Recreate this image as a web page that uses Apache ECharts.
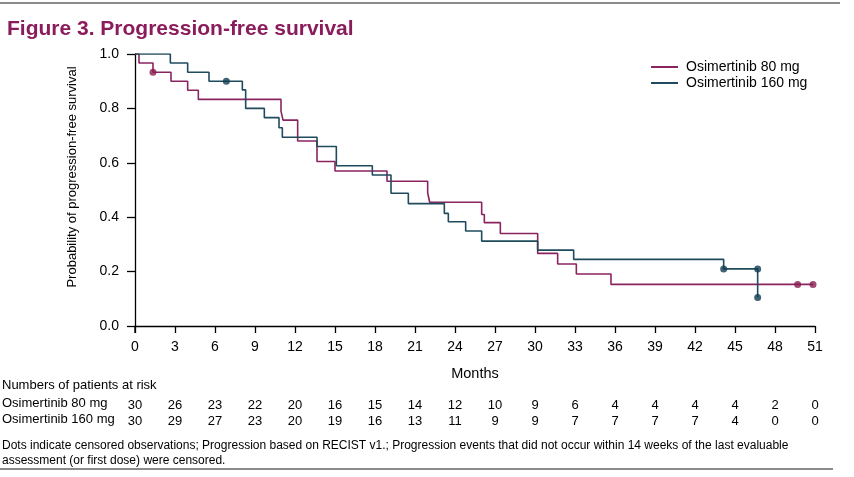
<!DOCTYPE html>
<html>
<head>
<meta charset="utf-8">
<script src="https://cdn.jsdelivr.net/npm/echarts@6/dist/echarts.min.js"></script>
<style>html,body{margin:0;padding:0;background:#fff;}#c{width:854px;height:477px;}</style>
</head>
<body>
<div id="c"></div>
<script>
// ---- data ----
var xTicks = [0, 3, 6, 9, 12, 15, 18, 21, 24, 27, 30, 33, 36, 39, 42, 45, 48, 51];
var atRisk80 = [30, 26, 23, 22, 20, 16, 15, 14, 12, 10, 9, 6, 4, 4, 4, 4, 2, 0];
var atRisk160 = [30, 29, 27, 23, 20, 19, 16, 13, 11, 9, 9, 7, 7, 7, 7, 4, 0, 0];
var km80 = [
  [0, 1.0], [0.3, 0.967], [1.35, 0.933], [2.7, 0.90], [3.95, 0.867], [4.75, 0.833],
  [10.95, 0.79], [11.1, 0.757], [12.2, 0.68], [13.65, 0.605], [15.0, 0.57], [18.9, 0.532],
  [21.95, 0.49], [22.1, 0.455], [26.0, 0.41], [26.2, 0.38], [27.4, 0.34], [30.2, 0.267],
  [31.7, 0.228], [33.1, 0.191], [35.7, 0.153], [50.85, 0.153]
];
var km160 = [
  [0, 1.0], [2.65, 0.967], [3.95, 0.933], [5.55, 0.90], [8.05, 0.868], [8.3, 0.80],
  [9.7, 0.766], [10.8, 0.729], [11.05, 0.694], [13.65, 0.66], [15.1, 0.589], [17.8, 0.555],
  [19.2, 0.488], [20.5, 0.45], [23.2, 0.414], [23.5, 0.383], [24.8, 0.349], [26.0, 0.312],
  [30.2, 0.279], [32.9, 0.245], [44.15, 0.21], [46.7, 0.105]
];
var censor80 = [[1.35, 0.933], [49.7, 0.153], [50.85, 0.153]];
var censor160 = [[6.85, 0.90], [44.15, 0.21], [46.7, 0.21], [46.7, 0.105]];
var seriesNames = ['Osimertinib 80 mg', 'Osimertinib 160 mg'];

// ---- chart ----
var FONT = 'Liberation Sans, Arial, sans-serif';
var c80 = '#8a2460', c160 = '#1f4b5c';
var d80 = '#881c4e', d160 = '#103c52';
var chart = echarts.init(document.getElementById('c'), null, {renderer: 'canvas'});

function riskAxis(arr, offset) {
  return {
    type: 'value', position: 'bottom', min: 0, max: 51, interval: 3, offset: offset,
    axisLine: {show: false}, axisTick: {show: false}, splitLine: {show: false},
    axisLabel: {margin: 0, fontFamily: FONT, fontSize: 13, color: '#000',
      formatter: function (v) { var i = xTicks.indexOf(Math.round(v)); return i >= 0 ? String(arr[i]) : ''; }}
  };
}

var option = {
  animation: false,
  backgroundColor: '#fff',
  grid: {left: 135, right: 39, top: 54, bottom: 151, containLabel: false},
  legend: {
    orient: 'vertical', left: 651, top: 59, padding: 0, itemGap: 0, itemWidth: 27, itemHeight: 2,
    icon: 'rect', data: seriesNames,
    textStyle: {fontFamily: FONT, fontSize: 14, color: '#000', lineHeight: 16, padding: [0, 0, 0, 3]}
  },
  xAxis: [
    {
      type: 'value', min: 0, max: 51, interval: 3,
      name: 'Months', nameLocation: 'middle', nameGap: 40,
      nameTextStyle: {fontFamily: FONT, fontSize: 14.5, color: '#000'},
      axisLine: {lineStyle: {color: '#000', width: 1.3}},
      axisTick: {inside: false, length: 7, lineStyle: {color: '#000', width: 1.3}},
      axisLabel: {margin: 14, fontFamily: FONT, fontSize: 14, color: '#000'},
      splitLine: {show: false}
    },
    riskAxis(atRisk80, 73),
    riskAxis(atRisk160, 89)
  ],
  yAxis: {
    type: 'value', min: 0, max: 1, interval: 0.2,
    axisLine: {show: true, lineStyle: {color: '#000', width: 1.3}},
    axisTick: {show: true, inside: false, length: 8, lineStyle: {color: '#000', width: 1.3}},
    axisLabel: {margin: 16, fontFamily: FONT, fontSize: 14, color: '#000',
      formatter: function (v) { return v.toFixed(1); }},
    splitLine: {show: false}
  },
  series: [
    {name: seriesNames[0], type: 'line', step: 'end', data: km80, showSymbol: false, symbol: 'none',
      lineStyle: {color: c80, width: 1.6}, itemStyle: {color: c80}, z: 3},
    {name: seriesNames[1], type: 'line', step: 'end', data: km160, showSymbol: false, symbol: 'none',
      lineStyle: {color: c160, width: 1.6}, itemStyle: {color: c160}, z: 4},
    {name: 'censor80', type: 'scatter', data: censor80, symbol: 'circle', symbolSize: 7,
      itemStyle: {color: d80}, z: 5},
    {name: 'censor160', type: 'scatter', data: censor160, symbol: 'circle', symbolSize: 7,
      itemStyle: {color: d160}, z: 6}
  ],
  graphic: [
    {type: 'line', shape: {x1: 0, y1: 3, x2: 840, y2: 3}, style: {stroke: '#8a8a8a', lineWidth: 2}},
    {type: 'line', shape: {x1: 0, y1: 469, x2: 833, y2: 469}, style: {stroke: '#8a8a8a', lineWidth: 2}},
    {type: 'line', shape: {x1: 135, y1: 326, x2: 135, y2: 333}, style: {stroke: '#000', lineWidth: 1.3}},
    {type: 'text', left: 7, top: 19, style: {text: 'Figure 3. Progression-free survival',
      font: 'bold 21px ' + FONT, fill: '#8b1c5c'}},
    {type: 'text', x: 72, y: 177, rotation: Math.PI / 2, style: {text: 'Probability of progression-free survival',
      font: '13px ' + FONT, fill: '#000', align: 'center', verticalAlign: 'middle'}},
    {type: 'text', x: 2, y: 385, style: {text: 'Numbers of patients at risk', font: '13px ' + FONT, fill: '#000', verticalAlign: 'middle'}},
    {type: 'text', x: 2, y: 403, style: {text: seriesNames[0], font: '13px ' + FONT, fill: '#000', verticalAlign: 'middle'}},
    {type: 'text', x: 2, y: 419, style: {text: seriesNames[1], font: '13px ' + FONT, fill: '#000', verticalAlign: 'middle'}},
    {type: 'text', x: 2, y: 446, style: {text: 'Dots indicate censored observations; Progression based on RECIST v1.; Progression events that did not occur within 14 weeks of the last evaluable',
      font: '12px ' + FONT, fill: '#000', verticalAlign: 'middle'}},
    {type: 'text', x: 2, y: 461, style: {text: 'assessment (or first dose) were censored.',
      font: '12px ' + FONT, fill: '#000', verticalAlign: 'middle'}}
  ]
};
chart.setOption(option);
</script>
</body>
</html>
